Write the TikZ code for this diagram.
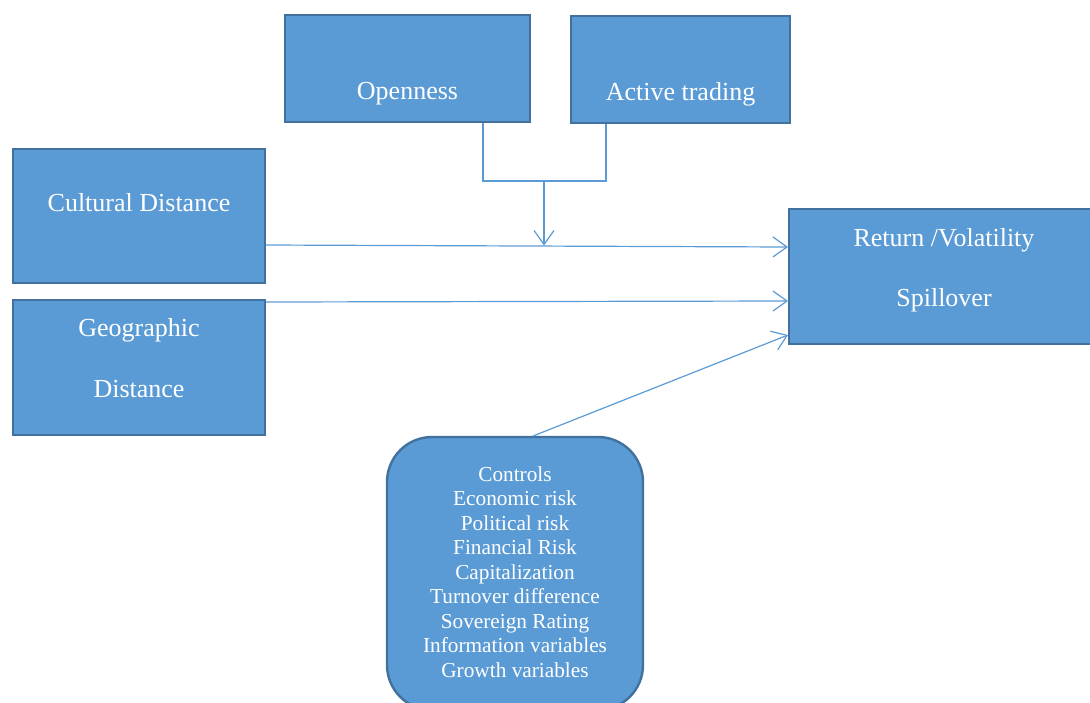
\documentclass[tikz,border=0pt]{standalone}
\usepackage{fontspec}
\setmainfont{Liberation Serif}
\usetikzlibrary{arrows.meta}
\definecolor{boxfill}{HTML}{5B9BD5}
\definecolor{boxline}{HTML}{41719C}
\definecolor{conn}{HTML}{5B9BD5}
\begin{document}
\begin{tikzpicture}[x=1pt,y=-1pt,
  box/.style={draw=boxline,line width=2.4pt,fill=boxfill,inner sep=0pt},
  lbl/.style={text=white,font=\fontsize{26}{30}\selectfont,inner sep=0pt,anchor=base},
  conline/.style={draw=conn,line width=1.2pt},
  arr/.style={conline,-{Straight Barb[length=14pt,width=20pt,line width=1.2pt]}}]
\useasboundingbox (0,0) rectangle (1090,702);
% boxes
\node[box,minimum width=245pt,minimum height=107pt] (open) at (407.5,68.5) {};
\node[box,minimum width=219pt,minimum height=107pt] (act) at (680.5,69.5) {};
\node[box,minimum width=252pt,minimum height=134pt] (cult) at (139,216) {};
\node[box,minimum width=252pt,minimum height=135pt] (geo) at (139,367.5) {};
\node[box,minimum width=305pt,minimum height=135pt] (ret) at (941.5,276.5) {};
\node[box,rounded corners=45pt,minimum width=256pt,minimum height=273pt] (ctrl) at (515,573.5) {};
% labels
\node[lbl] (lopen) at (407.5,99) {Openness};
\node[lbl] (lact) at (680.5,100) {Active trading};
\node[lbl] (lcult) at (139,211) {Cultural Distance};
\node[lbl] (lgeo1) at (139,336) {Geographic};
\node[lbl] (lgeo2) at (139,397) {Distance};
\node[lbl] (lret1) at (944,246) {Return /Volatility};
\node[lbl] (lret2) at (944,306) {Spillover};
\node[text=white,inner sep=0pt,align=center,font=\fontsize{21.3}{24.5}\selectfont] (lctrl) at (515,572)
  {Controls\\Economic risk\\Political risk\\Financial Risk\\Capitalization\\Turnover difference\\Sovereign Rating\\Information variables\\Growth variables};
% connectors
\coordinate (ob) at (483,123);
\coordinate (ab) at (606,124);
\coordinate (j1) at (483,181);
\coordinate (j2) at (606,181);
\coordinate (jm) at (544,181);
\coordinate (ja) at (544,245.5);
\coordinate (cs) at (266,245);
\coordinate (ce) at (788,247);
\coordinate (gs) at (266,302);
\coordinate (ge) at (788,301);
\coordinate (ks) at (533,436);
\coordinate (ke) at (788,335);
\draw[conline] (ob) -- (j1) -- (j2) -- (ab);
\draw[arr] (jm) -- (ja);
\draw[arr] (cs) -- (ce);
\draw[arr] (gs) -- (ge);
\draw[arr] (ks) -- (ke);
\end{tikzpicture}
\end{document}
